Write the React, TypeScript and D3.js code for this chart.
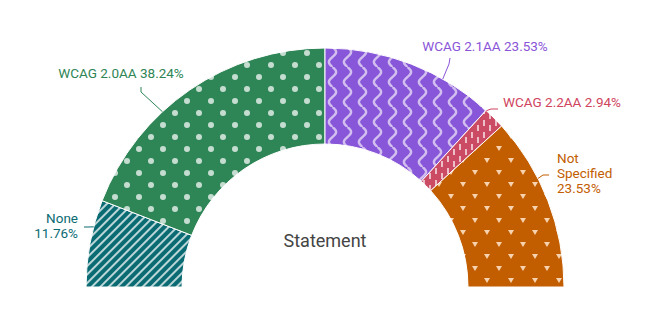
import React from "react";
import * as d3 from "d3";

const categories = ["None", "WCAG 2.0AA", "WCAG 2.1AA", "WCAG 2.2AA", "Not Specified"];
const values = [4, 13, 8, 1, 8];
const colors = ["#0b6b73", "#2e8556", "#8856d8", "#cb4a64", "#c25d00"];
const textColors = ["#0b6b73", "#2e8556", "#8a55d8", "#d0455e", "#c25d00"];
const centerTitle = "Statement";

const W = 649;
const H = 319;
const cx = 325;
const cy = 287;
const R = 239;
const r = 143;

type LabelCfg = {
  frac: number;
  elbow: [number, number];
  end: [number, number];
  tx: number;
  ty: number;
  anchor: "start" | "middle" | "end";
  lines: string[];
};

const labelCfg: LabelCfg[] = [
  { frac: 0.081, elbow: [88, 227], end: [84, 227], tx: 78, ty: 223, anchor: "end", lines: ["None", "11.76%"] },
  { frac: 0.262, elbow: [141, 92], end: [141, 87], tx: 121, ty: 78, anchor: "middle", lines: ["WCAG 2.0AA 38.24%"] },
  { frac: 0.664, elbow: [449, 64], end: [450, 58], tx: 485, ty: 51, anchor: "middle", lines: ["WCAG 2.1AA 23.53%"] },
  { frac: 0.736, elbow: [491, 109], end: [498, 109], tx: 503, ty: 107, anchor: "start", lines: ["WCAG 2.2AA 2.94%"] },
  { frac: 0.85, elbow: [543, 175], end: [549, 175], tx: 557, ty: 163, anchor: "start", lines: ["Not", "Specified", "23.53%"] },
];

const patternIds = ["p-stripes", "p-dots", "p-waves", "p-dashes", "p-tri"];

export default function App() {
  const pie = d3
    .pie<number>()
    .sort(null)
    .startAngle(-Math.PI / 2)
    .endAngle(Math.PI / 2)
    .value((d) => d);
  const arcs = pie(values);
  const arc = d3.arc<d3.PieArcDatum<number>>().innerRadius(r).outerRadius(R);
  const angle = d3.scaleLinear().domain([0, 1]).range([-Math.PI / 2, Math.PI / 2]);

  const light = "rgba(255,255,255,0.72)";

  // smooth sine for the wave pattern tile (15 x 20)
  const wavePts: [number, number][] = d3.range(0, 21, 1).map((y) => [7.5 + 3.6 * Math.sin((2 * Math.PI * y) / 20), y]);
  const wavePath = d3.line().curve(d3.curveCatmullRom)(wavePts) || "";

  return (
    <svg width={W} height={H} style={{ position: "absolute", left: 0, top: 0, fontFamily: "Roboto, sans-serif" }}>
      <defs>
        <pattern id="p-stripes" patternUnits="userSpaceOnUse" width={6} height={6} patternTransform="rotate(45)">
          <rect width={6} height={6} fill={colors[0]} />
          <line x1={3} y1={0} x2={3} y2={6} stroke={light} strokeWidth={2} />
        </pattern>
        <pattern id="p-dots" patternUnits="userSpaceOnUse" width={24} height={24} x={0} y={0}>
          <rect width={24} height={24} fill={colors[1]} />
          <circle cx={6} cy={6} r={3} fill={light} />
          <circle cx={18} cy={18} r={3} fill={light} />
        </pattern>
        <pattern id="p-waves" patternUnits="userSpaceOnUse" width={15} height={20}>
          <rect width={15} height={20} fill={colors[2]} />
          <path d={wavePath} fill="none" stroke="rgba(255,255,255,0.62)" strokeWidth={2.4} />
        </pattern>
        <pattern id="p-dashes" patternUnits="userSpaceOnUse" width={12} height={12}>
          <rect width={12} height={12} fill={colors[3]} />
          <line x1={3} y1={1} x2={3} y2={7} stroke={light} strokeWidth={1.8} />
          <line x1={9} y1={6} x2={9} y2={12} stroke={light} strokeWidth={1.8} />
        </pattern>
        <pattern id="p-tri" patternUnits="userSpaceOnUse" width={24} height={24}>
          <rect width={24} height={24} fill={colors[4]} />
          <path d="M3,3 L9,3 L6,8 Z" fill="rgba(255,230,205,0.85)" />
          <path d="M15,15 L21,15 L18,20 Z" fill="rgba(255,230,205,0.85)" />
        </pattern>
      </defs>
      <g transform={`translate(${cx},${cy})`}>
        {arcs.map((a, i) => (
          <path key={categories[i]} d={arc(a) || ""} fill={`url(#${patternIds[i]})`} stroke="#ffffff" strokeWidth={1} />
        ))}
      </g>
      {labelCfg.map((l, i) => {
        const ang = angle(l.frac);
        const ax = cx + R * Math.sin(ang);
        const ay = cy - R * Math.cos(ang);
        return (
          <g key={"lab" + i}>
            <polyline
              points={`${ax},${ay} ${l.elbow[0]},${l.elbow[1]} ${l.end[0]},${l.end[1]}`}
              fill="none"
              stroke={textColors[i]}
              strokeWidth={1}
            />
            <text x={l.tx} y={l.ty} textAnchor={l.anchor} fill={textColors[i]} fontSize={13.5}>
              {l.lines.map((t, j) => (
                <tspan key={j} x={l.tx} dy={j === 0 ? 0 : 15}>
                  {t}
                </tspan>
              ))}
            </text>
          </g>
        );
      })}
      <text x={cx} y={247} textAnchor="middle" fill="#444444" fontSize={18}>
        {centerTitle}
      </text>
    </svg>
  );
}
